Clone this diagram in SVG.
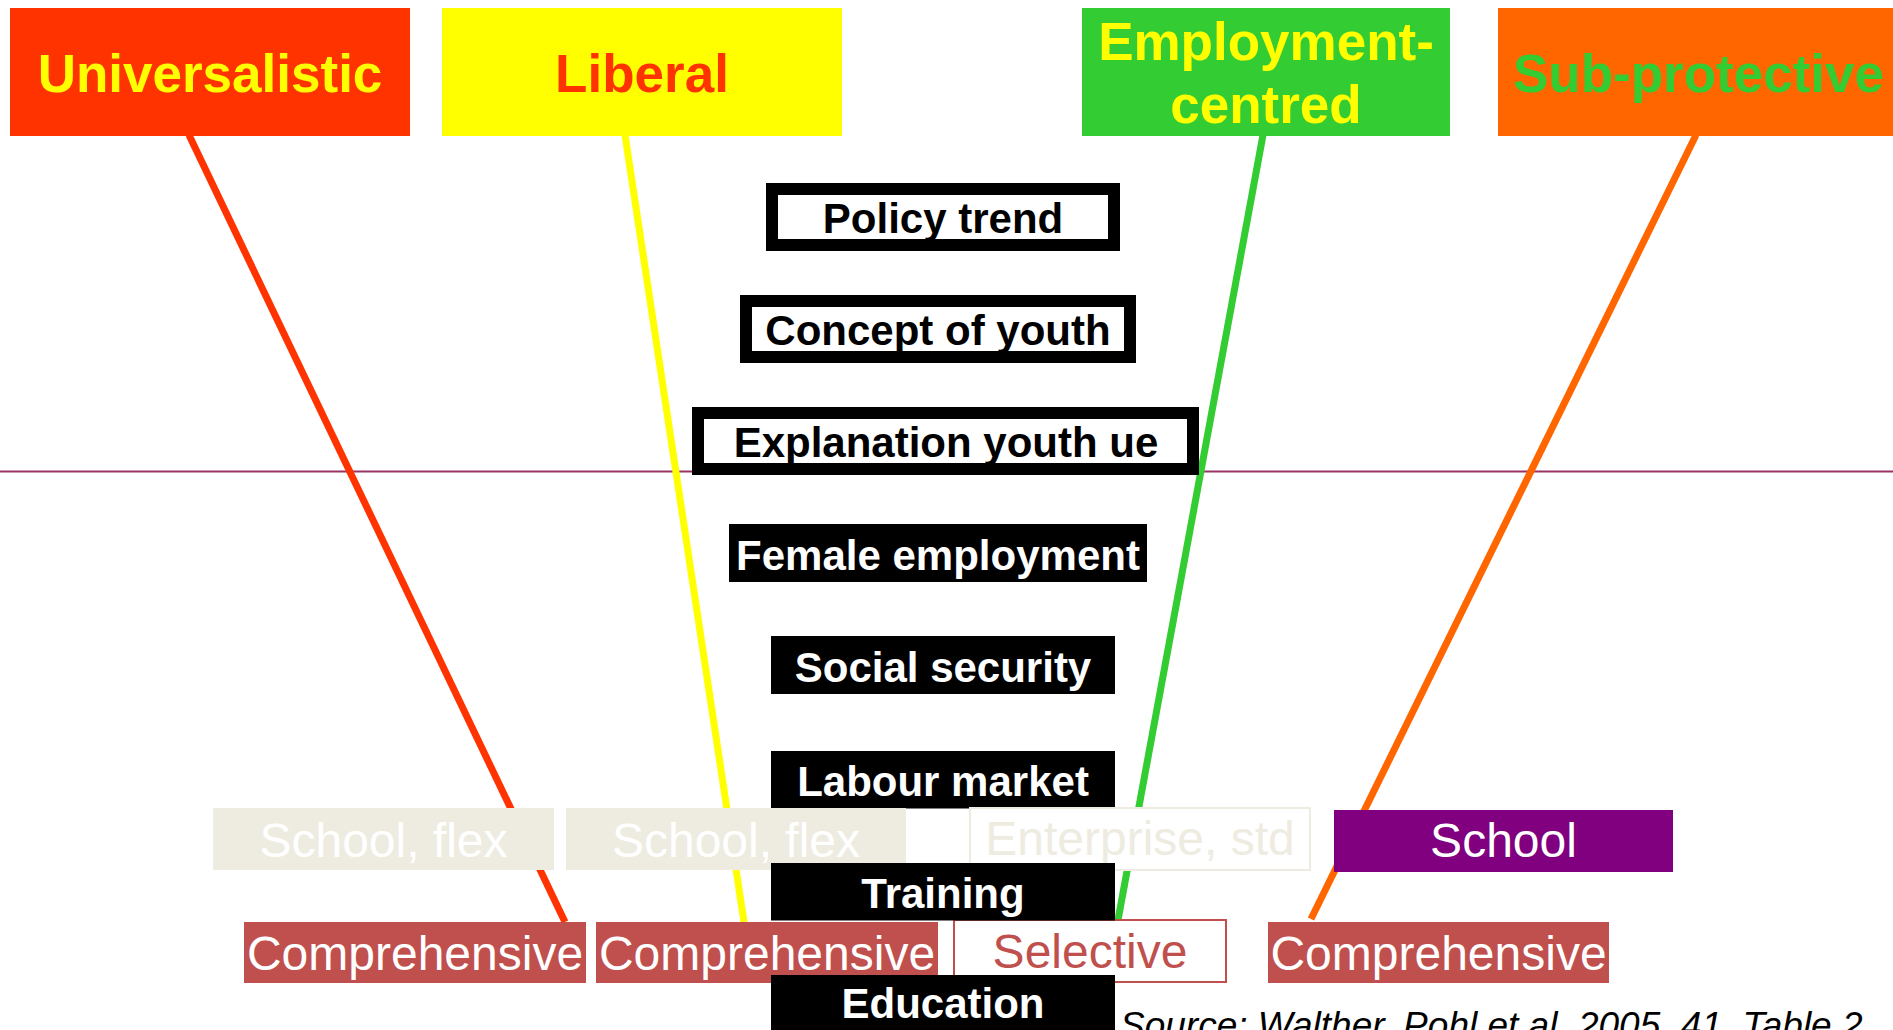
<svg xmlns="http://www.w3.org/2000/svg" width="1893" height="1030" viewBox="0 0 1893 1030">
<style>
text{font-family:"Liberation Sans",Arial,sans-serif;text-anchor:middle}
.title{font-size:53px;font-weight:bold}
.out{fill:#FFFFFF;stroke:#000000;stroke-width:12}
.blk{fill:#000000}
.bt{font-size:42px;font-weight:bold;fill:#000000}
.wt{font-size:42px;font-weight:bold;fill:#FFFFFF}
.beige{fill:#EEECE1}
.nt{font-size:48px;fill:#FFFFFF}
.comp{fill:#C0504D}
.ln{fill:none;stroke-width:7}
</style>
<rect width="1893" height="1030" fill="#FFFFFF"/>
<g id="connectors">
<line x1="0" y1="471.5" x2="1893" y2="471.5" stroke="#993366" stroke-width="2"/>
<line class="ln" x1="189" y1="135" x2="565" y2="922" stroke="#FF3300"/>
<line class="ln" x1="625" y1="135" x2="744" y2="922" stroke="#FFFF00"/>
<line class="ln" x1="1263" y1="135" x2="1118" y2="920" stroke="#33CC33"/>
<line class="ln" x1="1696" y1="135" x2="1311" y2="919" stroke="#FF6600"/>
</g>
<g id="universalistic">
<rect x="10" y="8" width="400" height="128" fill="#FF3300"/>
<text class="title" x="210" y="92" fill="#FFFF00">Universalistic</text>
</g>
<g id="liberal">
<rect x="442" y="8" width="400" height="128" fill="#FFFF00"/>
<text class="title" x="642" y="92" fill="#FF3300">Liberal</text>
</g>
<g id="employment-centred">
<rect x="1082" y="8" width="368" height="128" fill="#33CC33"/>
<text class="title" x="1266" y="60" fill="#FFFF00">Employment-</text>
<text class="title" x="1266" y="123" fill="#FFFF00">centred</text>
</g>
<g id="sub-protective">
<rect x="1498" y="8" width="401" height="128" fill="#FF6600"/>
<text class="title" x="1698.5" y="92" fill="#33CC33">Sub-protective</text>
</g>
<g id="policy-trend">
<rect class="out" x="772" y="189" width="342" height="56"/>
<text class="bt" x="943" y="233">Policy trend</text>
</g>
<g id="concept-of-youth">
<rect class="out" x="746" y="301" width="384" height="56"/>
<text class="bt" x="938" y="345">Concept of youth</text>
</g>
<g id="explanation-youth-ue">
<rect class="out" x="698" y="413" width="495" height="56"/>
<text class="bt" x="946" y="457">Explanation youth ue</text>
</g>
<g id="female-employment">
<rect class="blk" x="729" y="524" width="418" height="58"/>
<text class="wt" x="938" y="570">Female employment</text>
</g>
<g id="social-security">
<rect class="blk" x="771" y="636" width="344" height="58"/>
<text class="wt" x="943" y="682">Social security</text>
</g>
<g id="labour-market">
<rect class="blk" x="771" y="751" width="344" height="57.5"/>
<text class="wt" x="943" y="796">Labour market</text>
</g>
<g id="school-flex-1">
<rect class="beige" x="213" y="808" width="341" height="62"/>
<text class="nt" x="383.5" y="857">School, flex</text>
</g>
<g id="school-flex-2">
<rect class="beige" x="566" y="808" width="340" height="62"/>
<text class="nt" x="736" y="857">School, flex</text>
</g>
<g id="enterprise-std">
<rect x="970" y="808" width="340" height="62" fill="#FFFFFF" stroke="#EEECE1" stroke-width="2"/>
<text class="nt" x="1140" y="855" style="fill:#EEECE1">Enterprise, std</text>
</g>
<g id="school">
<rect x="1334" y="810" width="339" height="62" fill="#800080"/>
<text class="nt" x="1503.5" y="857">School</text>
</g>
<g id="selective">
<rect x="954" y="920" width="272" height="62" fill="#FFFFFF" stroke="#C0504D" stroke-width="2"/>
<text class="nt" x="1090" y="968" style="fill:#C0504D">Selective</text>
</g>
<g id="training">
<rect class="blk" x="771" y="863" width="344" height="57.5"/>
<text class="wt" x="943" y="908">Training</text>
</g>
<g id="comprehensive-1">
<rect class="comp" x="244" y="922" width="342" height="61"/>
<text class="nt" x="415" y="970">Comprehensive</text>
</g>
<g id="comprehensive-2">
<rect class="comp" x="596" y="922" width="342" height="61"/>
<text class="nt" x="767" y="970">Comprehensive</text>
</g>
<g id="comprehensive-3">
<rect class="comp" x="1268" y="922" width="341" height="61"/>
<text class="nt" x="1438.5" y="970">Comprehensive</text>
</g>
<g id="education">
<rect class="blk" x="771" y="975" width="344" height="60"/>
<text class="wt" x="943" y="1018">Education</text>
</g>
<g id="source">
<text x="1120" y="1038" style="text-anchor:start;font-size:37px;font-style:italic" fill="#000000">Source: Walther, Pohl et al. 2005, 41, Table 2</text>
</g>
</svg>
